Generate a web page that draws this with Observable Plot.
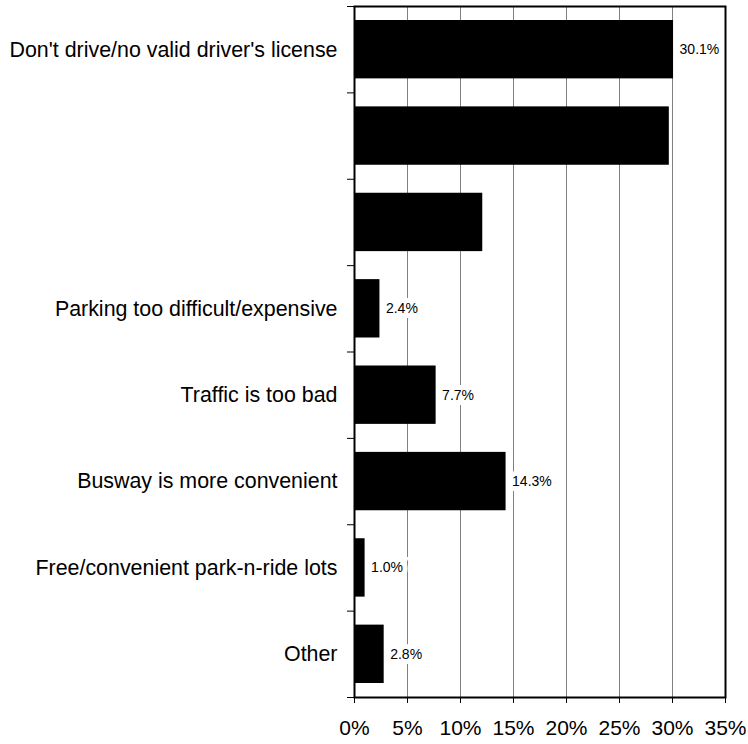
<!DOCTYPE html>
<html><head><meta charset="utf-8">
<script src="https://cdn.jsdelivr.net/npm/d3@7"></script>
<script src="https://cdn.jsdelivr.net/npm/@observablehq/plot@0.6"></script>
<style>body{margin:0;background:#fff}</style>
</head><body><div id="chart"></div>
<script>
const categories = ["Don't drive/no valid driver's license", "", "", "Parking too difficult/expensive", "Traffic is too bad", "Busway is more convenient", "Free/convenient park-n-ride lots", "Other"];
const values = [30.1, 29.7, 12.1, 2.4, 7.7, 14.3, 1.0, 2.8];
const valueLabels = ["30.1%", null, null, "2.4%", "7.7%", "14.3%", "1.0%", "2.8%"];
const xTicks = [0, 5, 10, 15, 20, 25, 30, 35];

const data = categories.map((c, i) => ({i, category: c, value: values[i], label: valueLabels[i]}));

const chart = Plot.plot({
  width: 748,
  height: 744,
  marginLeft: 354,
  marginRight: 23,
  marginTop: 6,
  marginBottom: 47,
  style: {fontFamily: "'Liberation Sans', Arial, sans-serif", background: "white", color: "black"},
  x: {domain: [0, 35]},
  y: {domain: [0, categories.length], reverse: true},
  marks: [
    Plot.ruleX(xTicks.slice(1, -1), {stroke: "#808080", strokeWidth: 1}),
    Plot.rectX(data, {x1: 0, x2: "value", y1: d => d.i, y2: d => d.i + 1, insetTop: 14, insetBottom: 14, fill: "black"}),
    Plot.text(data.filter(d => d.label), {x: "value", y: d => d.i + 0.5, text: "label", dx: 6, textAnchor: "start", fontSize: 14, fill: "black", stroke: "white", strokeWidth: 10, strokeLinejoin: "miter", paintOrder: "stroke"}),
    Plot.text(data, {x: 0, y: d => d.i + 0.5, text: "category", textAnchor: "end", dx: -17, fontSize: 21.4, fill: "black"}),
    Plot.frame({stroke: "black", strokeWidth: 2}),
    Plot.axisY(d3.range(0, categories.length + 1), {tickSize: 7, tickFormat: () => "", label: null, stroke: "black"}),
    Plot.axisX(xTicks, {tickFormat: d => d + "%", tickSize: 6, tickPadding: 17, fontSize: 21, label: null, stroke: "black"})
  ]
});
document.getElementById("chart").appendChild(chart);
</script>
</body></html>
